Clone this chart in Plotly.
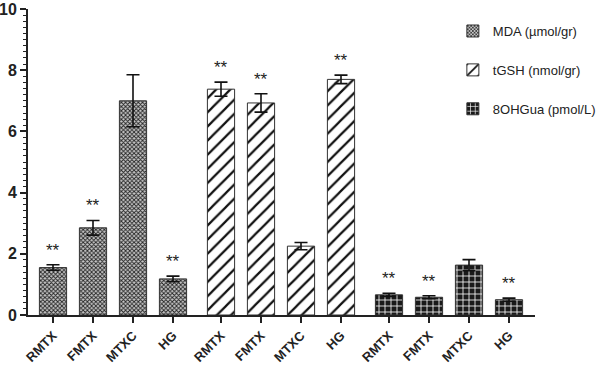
import plotly.graph_objects as go

groups = ["RMTX", "FMTX", "MTXC", "HG"]
series_names = ["MDA (µmol/gr)", "tGSH (nmol/gr)", "8OHGua (pmol/L)"]
mda_mean = [1.55, 2.85, 7.0, 1.18]
mda_err = [0.09, 0.24, 0.85, 0.09]
tgsh_mean = [7.38, 6.93, 2.25, 7.70]
tgsh_err = [0.23, 0.30, 0.12, 0.14]
ohgua_mean = [0.66, 0.58, 1.63, 0.50]
ohgua_err = [0.05, 0.05, 0.18, 0.05]
signif = ["**", "**", "", "**"]
y_ticks = [0, 2, 4, 6, 8, 10]

means = [mda_mean, tgsh_mean, ohgua_mean]
errs = [mda_err, tgsh_err, ohgua_err]

patterns = [
    dict(shape="x", size=3, solidity=0.5, fgcolor="#222222", bgcolor="#c8c8c8", fillmode="replace"),
    dict(shape="/", size=10, solidity=0.22, fgcolor="#111111", bgcolor="white", fillmode="replace"),
    dict(shape="+", size=6, solidity=0.25, fgcolor="white", bgcolor="#1a1a1a", fillmode="replace"),
]

GAP = 0.2
fig = go.Figure()
all_x = []
all_text = []
for s in range(3):
    xs = [s * (len(groups) + GAP) + i for i in range(len(groups))]
    all_x += xs
    all_text += groups
    fig.add_trace(go.Bar(
        x=xs, y=means[s], name=series_names[s],
        width=0.68,
        marker=dict(color="white", pattern=patterns[s],
                    line=dict(color="#333333", width=1)),
        error_y=dict(type="data", array=errs[s], visible=True,
                     color="#111111", thickness=1.6, width=6.5),
        legendgroup=str(s),
    ))
    for i, t in enumerate(signif):
        if t:
            fig.add_annotation(x=xs[i], y=means[s][i] + errs[s][i], text=t,
                               showarrow=False, yanchor="bottom", yshift=3,
                               font=dict(size=17, color="#222", family="Liberation Sans, Arial"))

fig.update_layout(
    width=600, height=365,
    margin=dict(l=28, r=65, t=9, b=50, autoexpand=False),
    plot_bgcolor="white", paper_bgcolor="white",
    showlegend=True,
    barmode="overlay",
    legend=dict(x=0.838, y=0.977, xanchor="left", yanchor="top",
                font=dict(size=13, color="#222", family="Liberation Sans, Arial"),
                tracegroupgap=19, bgcolor="rgba(0,0,0,0)"),
    font=dict(family="Liberation Sans, Arial", color="#222"),
)
fig.update_xaxes(
    range=[-0.625, 12.05], tickvals=all_x, ticktext=all_text, tickangle=-45,
    showline=True, linecolor="#222", linewidth=2, ticks="outside", ticklen=6,
    tickwidth=1.5, tickcolor="#222", showgrid=False, zeroline=False, automargin=False,
    tickfont=dict(size=13, family="Liberation Sans, Arial", color="#222", weight="bold"),
)
fig.update_yaxes(
    range=[0, 10], tickvals=y_ticks, showline=True, linecolor="#222", linewidth=2,
    ticks="outside", ticklen=6, tickwidth=1.5, tickcolor="#222",
    showgrid=False, zeroline=False, automargin=False,
    minor=dict(dtick=0.2, ticks="outside", ticklen=3, tickwidth=1, tickcolor="#222", showgrid=False),
    tickfont=dict(size=16, family="Liberation Sans, Arial", color="#222", weight="bold"),
)
fig.write_html("out.html", config={"displayModeBar": False},
               post_script="document.body.style.margin='0';")
